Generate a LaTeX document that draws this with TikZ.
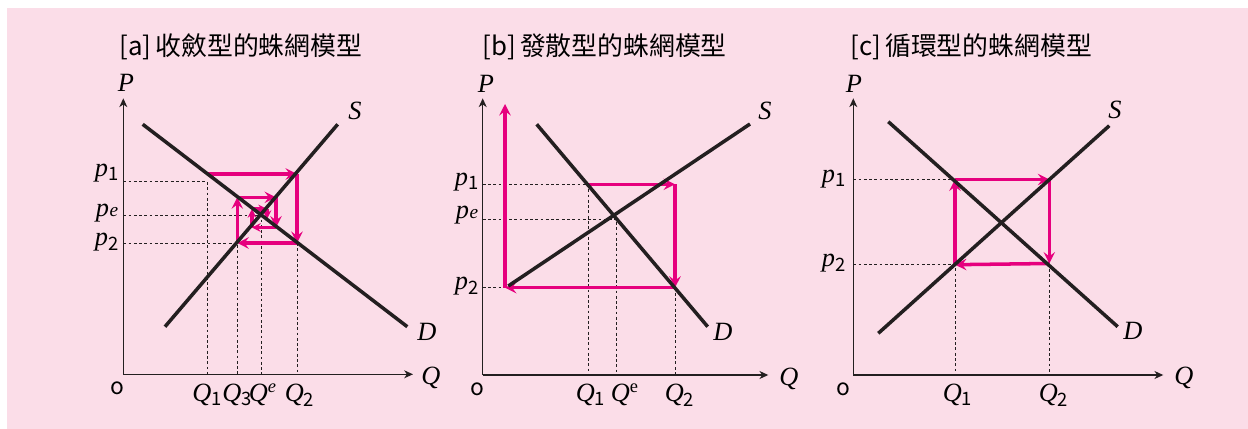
\documentclass[tikz,border=0pt]{standalone}
\usepackage{fontspec}
\newfontfamily\cjk{Noto Sans CJK TC}
\newfontfamily\varfont{Liberation Serif}
\newcommand\lsub[1]{\textsubscript{\cjk\upshape #1}}
\usetikzlibrary{arrows.meta}
\definecolor{webpink}{RGB}{230,0,126}
\definecolor{panelbg}{RGB}{251,221,232}
\definecolor{inkline}{RGB}{35,31,32}
\begin{document}
\begin{tikzpicture}[x=0.02cm, y=-0.02cm, >=Stealth,
  curve/.style={line width=2pt, color=inkline},
  axis/.style={line width=0.8pt, color=inkline, -{Stealth[length=5pt,width=4.5pt,inset=1.5pt]}},
  guide/.style={line width=0.55pt, color=inkline, dash pattern=on 1.6pt off 1.4pt},
  web/.style={line width=2pt, color=webpink, -{Stealth[length=6.5pt,width=6.5pt,inset=2.4pt]}},
  small web/.style={web, line width=1.8pt, -{Stealth[length=5pt,width=5pt,inset=1.8pt]}},
  lbl/.style={font=\varfont\itshape\fontsize{15}{17}\selectfont, inner sep=0pt},
  title/.style={anchor=west, font=\cjk\fontsize{14.7}{17}\selectfont, inner sep=0pt}]

  % background
  \fill[panelbg] (7,8) rectangle (1248,429);
  \useasboundingbox (0,0) rectangle (1248,429);

  % [a] converging web
  \node[title] (ta) at (119,47) {[a]\,收斂型的蛛網模型};
  \coordinate (Oa) at (123.3,374.3);
  \coordinate (Pa) at (123.3,98.3);
  \coordinate (Qa) at (413,374.3);
  \coordinate (Da1) at (142.7,124.3);
  \coordinate (Da2) at (407.3,326.7);
  \coordinate (Sa1) at (165,326.7);
  \coordinate (Sa2) at (337.7,124.3);
  \coordinate (Ea) at (261.7,215.7);
  \coordinate (ga1) at (207.3,181.7);
  \coordinate (wa0) at (207.3,174);
  \coordinate (wa1) at (297,174);
  \coordinate (wa2) at (297,243);
  \coordinate (wa3) at (237.3,243);
  \coordinate (wa4) at (237.3,197.3);
  \coordinate (wa5) at (276,197.3);
  \coordinate (wa6) at (276,227.5);
  \coordinate (wa7) at (252,227.5);
  \coordinate (wa8) at (252,209);
  \coordinate (wa9) at (267,209);
  \coordinate (wa10) at (267,219);

  \draw[guide] (Oa |- ga1) -- (ga1) -- (ga1 |- Oa);
  \draw[guide] (Oa |- Ea) -- (Ea) -- (Ea |- Oa);
  \draw[guide] (Oa |- wa3) -- (wa3) -- (wa3 |- Oa);
  \draw[guide] (wa2) -- (wa2 |- Oa);
  \draw[axis] (Oa) -- (Pa);
  \draw[axis] (Oa) -- (Qa);

  \draw[web] (wa0) -- (wa1);
  \draw[web] (wa1) -- (wa2);
  \draw[web] (wa2) -- (wa3);
  \draw[web] (wa3) -- (wa4);
  \draw[web] (wa4) -- (wa5);
  \draw[web] (wa5) -- (wa6);
  \draw[small web] (wa6) -- (wa7);
  \draw[small web] (wa7) -- (wa8);
  \draw[small web] (wa8) -- (wa9);
  \draw[small web] (wa9) -- (wa10);

  \draw[curve] (Da1) -- (Da2);
  \draw[curve] (Sa1) -- (Sa2);

  \node[lbl] (la-P) at (126,83) {P};
  \node[lbl] (la-Q) at (431,378) {Q};
  \node[lbl] (la-S) at (355,111) {S};
  \node[lbl] (la-D) at (427,332) {D};
  \node[lbl, font=\cjk\fontsize{13}{15}\selectfont] (la-o) at (117,388) {o};
  \node[lbl] (la-p1) at (107,173) {p\lsub{1}};
  \node[lbl] (la-pe) at (107,213) {p\kern0.3pt{\fontsize{11}{11}\selectfont e}};
  \node[lbl] (la-p2) at (107,242) {p\lsub{2}};
  \node[lbl] (la-Q1) at (207.5,395) {Q\lsub{1}};
  \node[lbl] (la-Q3) at (237.5,395) {Q\lsub{3}};
  \node[lbl] (la-Qe) at (263,395) {Q\textsuperscript{e}};
  \node[lbl] (la-Q2) at (300,395) {Q\lsub{2}};

  % [b] diverging web
  \node[title] (tb) at (482,47) {[b]\,發散型的蛛網模型};
  \coordinate (Ob) at (482.7,375);
  \coordinate (Pb) at (482.7,98.3);
  \coordinate (Qb) at (768.3,375);
  \coordinate (Db1) at (536.7,124.3);
  \coordinate (Db2) at (707.7,326.7);
  \coordinate (Sb1) at (508.3,286);
  \coordinate (Sb2) at (750,124);
  \coordinate (Eb) at (616.7,219);
  \coordinate (wb0) at (588.3,184.3);
  \coordinate (wb1) at (675,184.3);
  \coordinate (wb2) at (675,287.7);
  \coordinate (wb3) at (505,287.7);
  \coordinate (wb4) at (505,104);

  \draw[guide] (Ob |- wb0) -- (wb0) -- (wb0 |- Ob);
  \draw[guide] (Ob |- Eb) -- (Eb) -- (Eb |- Ob);
  \draw[guide] (Ob |- wb3) -- (wb3);
  \draw[guide] (wb2) -- (wb2 |- Ob);
  \draw[axis] (Ob) -- (Pb);
  \draw[axis] (Ob) -- (Qb);

  \draw[web] (wb0) -- (wb1);
  \draw[web] (wb1) -- (wb2);
  \draw[web] (wb2) -- (wb3);
  \draw[web] (wb3) -- (wb4);

  \draw[curve] (Db1) -- (Db2);
  \draw[curve] (Sb1) -- (Sb2);

  \node[lbl] (lb-P) at (486,84) {P};
  \node[lbl] (lb-Q) at (789,379) {Q};
  \node[lbl] (lb-S) at (765,111) {S};
  \node[lbl] (lb-D) at (723,332) {D};
  \node[lbl, font=\cjk\fontsize{13}{15}\selectfont] (lb-o) at (477,389) {o};
  \node[lbl] (lb-p1) at (467,182) {p\lsub{1}};
  \node[lbl] (lb-pe) at (467,215) {p\kern0.3pt{\fontsize{11}{11}\selectfont e}};
  \node[lbl] (lb-p2) at (467,286) {p\lsub{2}};
  \node[lbl] (lb-Q1) at (591,395) {Q\lsub{1}};
  \node[lbl] (lb-Qe) at (625,395) {Q\textsuperscript{\upshape e}};
  \node[lbl] (lb-Q2) at (680,395) {Q\lsub{2}};

  % [c] cyclical web
  \node[title] (tc) at (850,47) {[c]\,循環型的蛛網模型};
  \coordinate (Oc) at (853.3,375);
  \coordinate (Pc) at (853.3,98.3);
  \coordinate (Qc) at (1163.3,375);
  \coordinate (Dc1) at (888.3,121.7);
  \coordinate (Dc2) at (1117.7,326.7);
  \coordinate (Sc1) at (878.3,333.3);
  \coordinate (Sc2) at (1109.3,125.7);
  \coordinate (wc0) at (955,179.5);
  \coordinate (wc1) at (1049.3,179.5);
  \coordinate (wc2) at (1049.3,263.5);
  \coordinate (wc3) at (955,264.7);

  \draw[guide] (Oc |- wc0) -- (wc0);
  \draw[guide] (Oc |- wc3) -- (wc3) -- (wc3 |- Oc);
  \draw[guide] (wc2) -- (wc2 |- Oc);
  \draw[axis] (Oc) -- (Pc);
  \draw[axis] (Oc) -- (Qc);

  \draw[web] (wc0) -- (wc1);
  \draw[web] (wc1) -- (wc2);
  \draw[web] (wc2) -- (wc3);
  \draw[web] (wc3) -- (wc0);

  \draw[curve] (Dc1) -- (Dc2);
  \draw[curve] (Sc1) -- (Sc2);

  \node[lbl] (lc-P) at (854,84) {P};
  \node[lbl] (lc-Q) at (1184,378) {Q};
  \node[lbl] (lc-S) at (1115,110) {S};
  \node[lbl] (lc-D) at (1133,331) {D};
  \node[lbl, font=\cjk\fontsize{13}{15}\selectfont] (lc-o) at (843,389) {o};
  \node[lbl] (lc-p1) at (834,179) {p\lsub{1}};
  \node[lbl] (lc-p2) at (834,263) {p\lsub{2}};
  \node[lbl] (lc-Q1) at (958,395) {Q\lsub{1}};
  \node[lbl] (lc-Q2) at (1054,395) {Q\lsub{2}};
\end{tikzpicture}
\end{document}
